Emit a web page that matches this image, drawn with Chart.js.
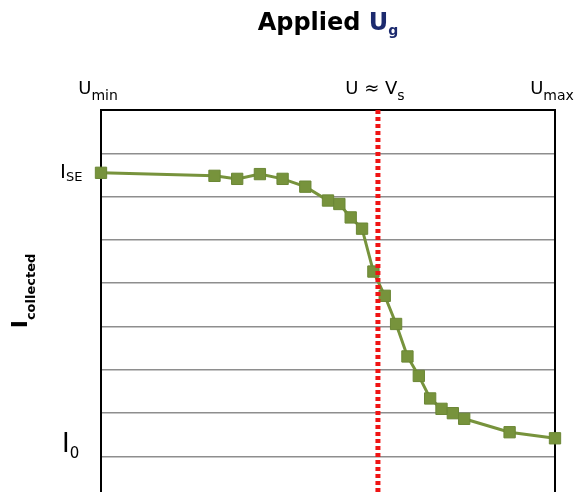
<!DOCTYPE html>
<html><head><meta charset="utf-8">
<script src="https://cdn.jsdelivr.net/npm/chart.js@4/dist/chart.umd.min.js"></script>
<style>html,body{margin:0;padding:0;background:#fff;overflow:hidden}canvas{display:block}</style>
</head><body>
<canvas id="c" width="579" height="492"></canvas>
<script>
// ---- data ----
const uApplied = [0, 25, 30, 35, 40, 45, 50, 52.5, 55, 57.5, 60, 62.5, 65, 67.5, 70, 72.5, 75, 77.5, 80, 90, 100];
const iCollected = [6.55, 6.48, 6.41, 6.52, 6.41, 6.23, 5.91, 5.83, 5.52, 5.26, 4.27, 3.71, 3.06, 2.31, 1.86, 1.34, 1.10, 1.00, 0.87, 0.56, 0.42];
const uSpace = [61];
const xTickValues = [0, 61, 100];
const xTickMain = ['U', 'U \u2248 V', 'U'];
const xTickSub = ['min', 's', 'max'];
const yTickValues = [6.44, 0.11];
const yTickMain = ['I', 'I'];
const yTickSub = ['SE', '0'];
const gridValues = [0, 1, 2, 3, 4, 5, 6, 7, 8];
const titleMain = 'Applied ';
const titleVar = 'U';
const titleSub = 'g';
const yTitleMain = 'I';
const yTitleSub = 'collected';

const X_MIN = 0, X_MAX = 100, Y_MIN = -0.82, Y_MAX = 8;
const FONT = "'DejaVu Sans', sans-serif";

function drawSub(ctx, x, y, main, sub, mainFont, subFont, drop, mainColor, subColor) {
  ctx.font = mainFont; const w1 = ctx.measureText(main).width;
  ctx.font = subFont; const w2 = ctx.measureText(sub).width;
  if (x === null) return w1 + w2;
  ctx.font = mainFont; ctx.fillStyle = mainColor; ctx.fillText(main, x, y);
  ctx.font = subFont; ctx.fillStyle = subColor; ctx.fillText(sub, x + w1, y + drop);
  return w1 + w2;
}

const framePlugin = {
  id: 'frame',
  beforeDatasetsDraw(chart) {
    const ctx = chart.ctx, a = chart.chartArea;
    ctx.save();
    ctx.strokeStyle = '#000'; ctx.lineWidth = 2;
    ctx.beginPath(); ctx.moveTo(a.right, a.top - 1); ctx.lineTo(a.right, a.bottom); ctx.stroke();
    ctx.restore();
  },
  afterDraw(chart) {
    const ctx = chart.ctx, a = chart.chartArea, xs = chart.scales.x, ys = chart.scales.y;
    ctx.save();
    ctx.textAlign = 'left'; ctx.textBaseline = 'alphabetic';
    // title
    const tf = `bold 24px ${FONT}`, tsf = `bold 14px ${FONT}`;
    ctx.font = tf;
    const w1 = ctx.measureText(titleMain).width;
    const w2 = drawSub(ctx, null, 0, titleVar, titleSub, tf, tsf, 5, '#000', '#000');
    let tx = (a.left + a.right) / 2 - (w1 + w2) / 2;
    ctx.font = tf; ctx.fillStyle = '#000'; ctx.fillText(titleMain, tx, 30);
    drawSub(ctx, tx + w1, 30, titleVar, titleSub, tf, tsf, 5, '#1c2a6e', '#1c2a6e');
    // top labels
    const mf = `18px ${FONT}`, sf = `14px ${FONT}`;
    xTickValues.forEach((v, i) => {
      const w = drawSub(ctx, null, 0, xTickMain[i], xTickSub[i], mf, sf, 6, '#000', '#000');
      const cx = xs.getPixelForValue(v) - 3;
      drawSub(ctx, cx - w / 2, 94, xTickMain[i], xTickSub[i], mf, sf, 6, '#000', '#000');
    });
    // left labels
    drawSub(ctx, a.left - 41, ys.getPixelForValue(yTickValues[0]), yTickMain[0], yTickSub[0],
      `20px ${FONT}`, `13px ${FONT}`, 3, '#000', '#000');
    drawSub(ctx, a.left - 39, ys.getPixelForValue(yTickValues[1]), yTickMain[1], yTickSub[1],
      `26px ${FONT}`, `15px ${FONT}`, 6, '#000', '#000');
    // y title
    const yf = `bold 22px ${FONT}`, ysf = `bold 13px ${FONT}`;
    const yw = drawSub(ctx, null, 0, yTitleMain, yTitleSub, yf, ysf, 8, '#000', '#000');
    ctx.translate(27, 291 + yw / 2);
    ctx.rotate(-Math.PI / 2);
    drawSub(ctx, 0, 0, yTitleMain, yTitleSub, yf, ysf, 8, '#000', '#000');
    ctx.restore();
  }
};

new Chart(document.getElementById('c'), {
  type: 'line',
  data: {
    datasets: [
      {
        label: 'Vs',
        data: [{ x: uSpace[0], y: Y_MAX }, { x: uSpace[0], y: Y_MIN }],
        borderColor: '#f01414', borderWidth: 5, borderDash: [4, 3], borderCapStyle: 'butt',
        pointRadius: 0, fill: false, order: 0
      },
      {
        label: 'Icollected',
        data: uApplied.map((u, i) => ({ x: u, y: iCollected[i] })),
        borderColor: '#77933c', borderWidth: 3, backgroundColor: '#77933c',
        pointStyle: 'rect', pointRadius: 8, pointBackgroundColor: '#77933c',
        pointBorderColor: '#6b8735', pointBorderWidth: 1, tension: 0, fill: false,
        clip: false, order: 1
      }
    ]
  },
  options: {
    responsive: false, animation: false, devicePixelRatio: 1,
    layout: { autoPadding: false, padding: { left: 101, right: 24, top: 110, bottom: 0 } },
    plugins: { legend: { display: false }, tooltip: { enabled: false }, title: { display: false } },
    scales: {
      x: {
        type: 'linear', position: 'top', min: X_MIN, max: X_MAX,
        ticks: { display: false }, grid: { display: false, drawTicks: false },
        border: { display: true, color: '#000', width: 2 },
        afterFit: s => { s.height = 0; }
      },
      y: {
        type: 'linear', position: 'left', min: Y_MIN, max: Y_MAX,
        afterBuildTicks: s => { s.ticks = gridValues.map(v => ({ value: v })); },
        ticks: { display: false },
        grid: { color: '#8e8e8e', lineWidth: 1.5, drawTicks: false },
        border: { display: true, color: '#000', width: 2 },
        afterFit: s => { s.width = 0; }
      }
    }
  },
  plugins: [framePlugin]
});
</script>
</body></html>
